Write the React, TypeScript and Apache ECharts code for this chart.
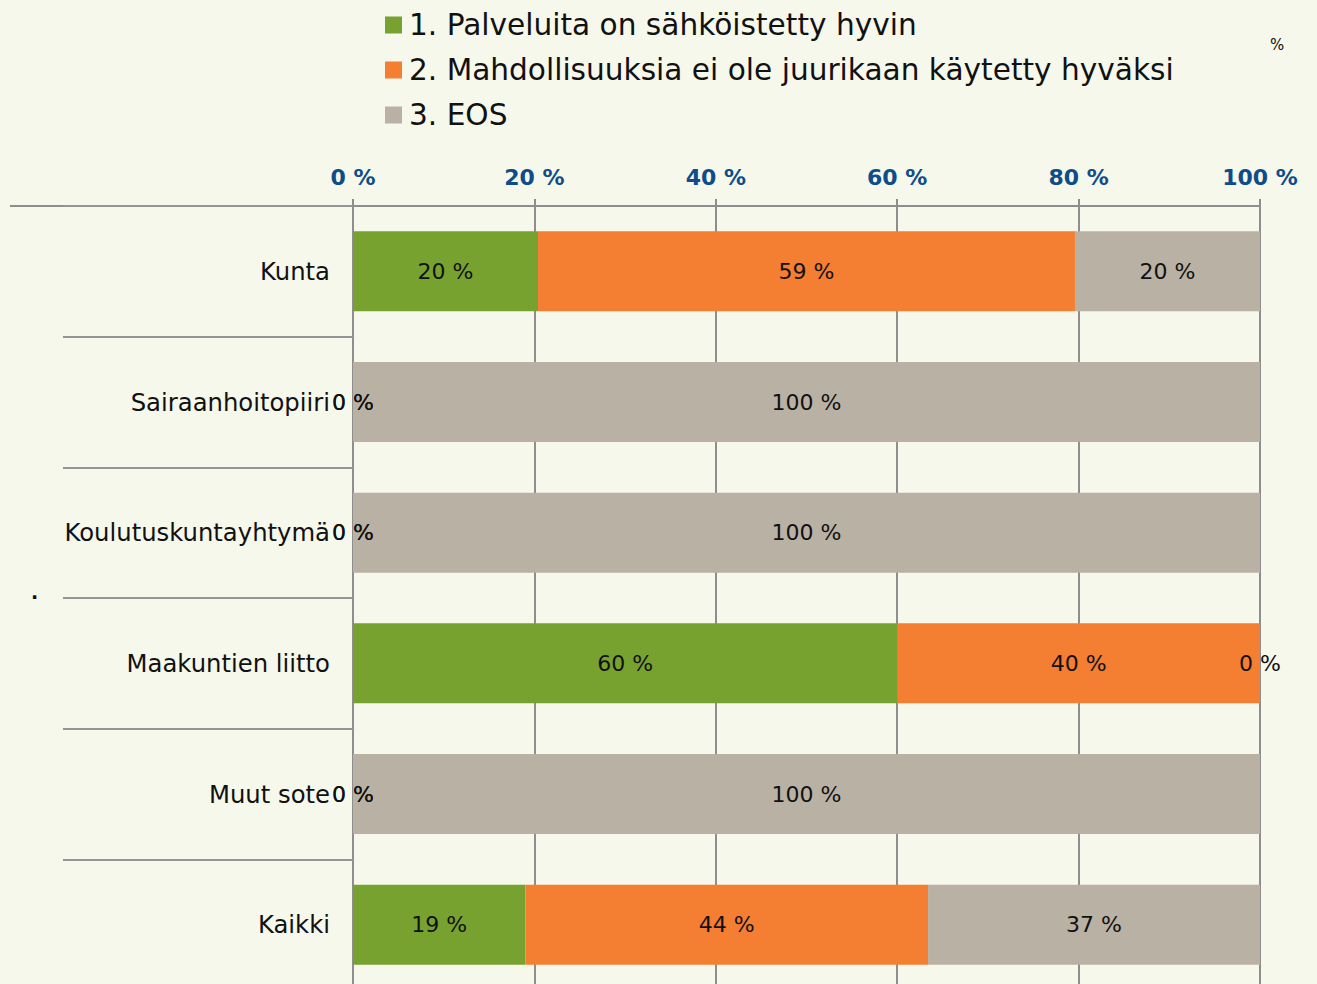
import React, { useEffect, useRef } from "react";
import * as echarts from "echarts";

const categories = [
  "Kunta",
  "Sairaanhoitopiiri",
  "Koulutuskuntayhtymä",
  "Maakuntien liitto",
  "Muut sote",
  "Kaikki",
];
const seriesNames = [
  "1. Palveluita on sähköistetty hyvin",
  "2. Mahdollisuuksia ei ole juurikaan käytetty hyväksi",
  "3. EOS",
];
const palvelut = [20.4, 0, 0, 60, 0, 19.0];
const mahdollisuudet = [59.2, 0, 0, 40, 0, 44.4];
const eos = [20.4, 100, 100, 0, 100, 36.6];
const colors = ["#78A22F", "#F47E32", "#BAB1A5"];

const FONT = "DejaVu Sans";
const BG = "#F6F8EC";
const GRID_LEFT = 353;
const GRID_TOP = 206;
const LINE = "#8E8E8E";

export default function App() {
  const ref = useRef<HTMLDivElement>(null);
  useEffect(() => {
    if (!ref.current) return;
    const chart = echarts.init(ref.current, undefined, { renderer: "svg" });
    const values = [palvelut, mahdollisuudet, eos];
    chart.setOption({
      animation: false,
      backgroundColor: BG,
      textStyle: { fontFamily: FONT },
      legend: {
        orient: "vertical",
        left: 380,
        top: 5,
        itemWidth: 17,
        itemHeight: 17,
        itemGap: 15,
        icon: "rect",
        textStyle: { fontSize: 29.6, lineHeight: 29, color: "#111", fontFamily: FONT, padding: [0, 0, 0, 2] },
        data: seriesNames,
      },
      grid: { left: GRID_LEFT, right: 57, top: GRID_TOP, bottom: 0, containLabel: false },
      xAxis: {
        type: "value",
        position: "top",
        min: 0,
        max: 100,
        interval: 20,
        axisLine: { show: true, lineStyle: { color: LINE, width: 2 } },
        axisTick: { show: true, length: 7, lineStyle: { color: LINE, width: 2 } },
        splitLine: { show: true, lineStyle: { color: LINE, width: 2 } },
        axisLabel: {
          formatter: "{value} %",
          color: "#0E4D8A",
          fontWeight: "bold",
          fontSize: 22,
          fontFamily: FONT,
          margin: 18,
        },
      },
      yAxis: {
        type: "category",
        inverse: true,
        data: categories,
        axisLine: { show: true, lineStyle: { color: LINE, width: 2 } },
        axisTick: { show: true, length: 290, lineStyle: { color: "#959595", width: 2 } },
        axisLabel: { color: "#111", fontSize: 24.3, fontFamily: FONT, margin: 23 },
      },
      series: seriesNames.map((name, i) => ({
        name,
        type: "bar",
        stack: "total",
        barWidth: 80,
        itemStyle: { color: colors[i] },
        label: {
          show: true,
          position: "inside",
          color: "#111",
          fontSize: 22,
          fontFamily: FONT,
          formatter: (p: any) => `${Math.round(p.value)} %`,
        },
        data: values[i],
      })),
      graphic: [
        {
          type: "line",
          shape: { x1: 10, y1: GRID_TOP, x2: GRID_LEFT, y2: GRID_TOP },
          style: { stroke: LINE, lineWidth: 2 },
        },
        {
          type: "text",
          left: 1270,
          top: 37,
          style: { text: "%", fontSize: 15, fill: "#111", fontFamily: FONT },
        },
        {
          type: "text",
          left: 31,
          top: 582,
          style: { text: ".", fontSize: 19, fill: "#111", fontFamily: FONT, fontWeight: "bold" },
        },
      ],
    });
    return () => chart.dispose();
  }, []);
  return (
    <div
      style={{ position: "absolute", left: 0, top: 0, width: 1317, height: 984, overflow: "hidden", background: BG }}
    >
      <div ref={ref} style={{ width: 1317, height: 990 }} />
    </div>
  );
}
